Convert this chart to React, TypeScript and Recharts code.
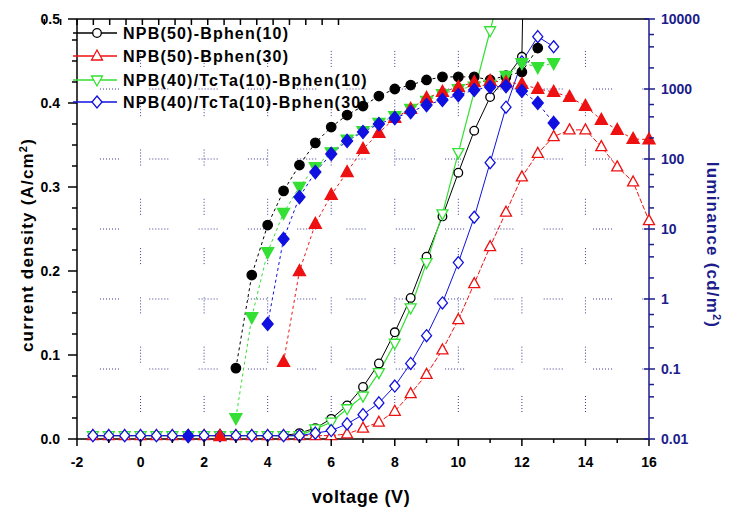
import { LineChart, Line, XAxis, YAxis, ReferenceLine } from "recharts";

// voltage (V) of each measured point
const voltage = [
  -1.5, -1, -0.5, 0, 0.5, 1, 1.5, 2, 2.5, 3, 3.5, 4, 4.5, 5, 5.5, 6, 6.5, 7,
  7.5, 8, 8.5, 9, 9.5, 10, 10.5, 11, 11.5, 12, 12.5, 13, 13.5, 14, 14.5, 15,
  15.5, 16,
];

// current density (A/cm2), open markers, left axis
const jBphen10 = [
  0.004, 0.004, 0.004, 0.004, 0.004, 0.004, 0.004, 0.004, 0.004, 0.004, 0.004,
  0.004, 0.004, 0.007, 0.013, 0.024, 0.04, 0.062, 0.09, 0.127, 0.168, 0.217,
  0.265, 0.317, 0.367, 0.407, 0.43, 0.455, 1.5, null, null, null, null, null,
  null, null,
];
const jBphen30 = [
  0.004, 0.004, 0.004, 0.004, 0.004, 0.004, 0.004, 0.004, 0.004, 0.004, 0.004,
  0.004, 0.004, 0.004, 0.004, 0.004, 0.006, 0.013, 0.02, 0.033, 0.054, 0.077,
  0.106, 0.142, 0.185, 0.229, 0.27, 0.312, 0.34, 0.36, 0.368, 0.368, 0.348,
  0.324, 0.306, 0.26,
];
const jTcta10 = [
  0.004, 0.004, 0.004, 0.004, 0.004, 0.004, 0.004, 0.004, 0.004, 0.004, 0.004,
  0.004, 0.004, 0.004, 0.012, 0.02, 0.036, 0.051, 0.079, 0.114, 0.156, 0.21,
  0.268, 0.341, null, 0.486, 0.56, null, null, null, null, null, null, null,
  null, null,
];
const jTcta30 = [
  0.004, 0.004, 0.004, 0.004, 0.004, 0.004, 0.004, 0.004, 0.004, 0.004, 0.004,
  0.004, 0.004, 0.004, 0.007, 0.01, 0.018, 0.029, 0.043, 0.063, 0.09, 0.123,
  0.162, 0.21, 0.264, 0.329, 0.395, 0.449, 0.479, 0.467, null, null, null,
  null, null, null,
];

// luminance (cd/m2), filled markers, right log axis
const lBphen10 = [
  null, null, null, null, null, null, null, null, null, 0.103, 2.2, 11.4, 35,
  82, 170, 286, 425, 571, 794, 1000, 1140, 1345, 1490, 1490, 1490, 1345, 1550,
  1750, 3850, null, null, null, null, null, null, null,
];
const lBphen30 = [
  null, null, null, null, null, null, null, null, 0.011, null, null, null,
  0.126, 2.5, 11.8, 30.6, 65, 139, 235, 385, 520, 743, 906, 1070, 1250, 1300,
  1250, 1180, 1000, 906, 769, 571, 361, 260, 193, 190,
];
const lTcta10 = [
  null, null, null, null, null, null, null, null, null, 0.02, 0.55, 4.7, 17,
  40, 77, 125, 190, 250, 330, 410, 520, 680, 850, 1000, 1080, 1150, 1550, 2350,
  2060, 2350, null, null, null, null, null, null,
];
const lTcta30 = [
  null, null, null, null, null, null, 0.011, null, null, null, null, 0.44, 7.2,
  28.6, 65, 118, 181, 243, 316, 385, 469, 590, 697, 820, 968, 1070, 1100, 937,
  631, 327, null, null, null, null, null, null,
];

const seriesNames = [
  "NPB(50)-Bphen(10)",
  "NPB(50)-Bphen(30)",
  "NPB(40)/TcTa(10)-Bphen(10)",
  "NPB(40)/TcTa(10)-Bphen(30)",
];

const xTicks = [-2, -1, 0, 1, 2, 3, 4, 5, 6, 7, 8, 9, 10, 11, 12, 13, 14, 15, 16];
const xGrid = [0, 2, 4, 6, 8, 10, 12, 14];
const jTicks = [
  0, 0.025, 0.05, 0.075, 0.1, 0.125, 0.15, 0.175, 0.2, 0.225, 0.25, 0.275, 0.3,
  0.325, 0.35, 0.375, 0.4, 0.425, 0.45, 0.475, 0.5,
];
const lumTicks = [
  0.01, 0.02, 0.04, 0.06, 0.1, 0.2, 0.4, 0.6, 1, 2, 4, 6, 10, 20, 40, 60, 100,
  200, 400, 600, 1000, 2000, 4000, 6000, 10000,
];
const lumLabels = [0.01, 0.1, 1, 10, 100, 1000, 10000];
const lumGrid = [0.1, 1, 10, 100, 1000];

const rows = voltage.map((v, i) => ({
  v,
  jA: jBphen10[i],
  jB: jBphen30[i],
  jC: jTcta10[i],
  jD: jTcta30[i],
  lA: lBphen10[i],
  lB: lBphen30[i],
  lC: lTcta10[i],
  lD: lTcta30[i],
}));

const FONT = "'Liberation Sans', Arial, sans-serif";
const NAVY = "#1c1c8a";
const BLACK = "#000000";
const RED = "#ee1111";
const GREEN = "#33e033";
const BLUE = "#1010e0";
const GRID = "#3a3a90";

type Shape = "circle" | "up" | "down" | "diamond";

function Marker({
  cx,
  cy,
  shape,
  color,
  filled,
}: {
  cx: number;
  cy: number;
  shape: Shape;
  color: string;
  filled: boolean;
}) {
  const p = { fill: filled ? color : "#fff", stroke: color, strokeWidth: 1.3 };
  const s = filled ? 1.1 : 1;
  if (shape === "circle") return <circle cx={cx} cy={cy} r={4.3 * s} {...p} />;
  if (shape === "up")
    return (
      <polygon
        points={`${cx},${cy - 6 * s} ${cx + 5.5 * s},${cy + 4 * s} ${cx - 5.5 * s},${cy + 4 * s}`}
        {...p}
      />
    );
  if (shape === "down")
    return (
      <polygon
        points={`${cx - 5.5 * s},${cy - 4 * s} ${cx + 5.5 * s},${cy - 4 * s} ${cx},${cy + 6 * s}`}
        {...p}
      />
    );
  return (
    <polygon
      points={`${cx},${cy - 6 * s} ${cx + 5 * s},${cy} ${cx},${cy + 6 * s} ${cx - 5 * s},${cy}`}
      {...p}
    />
  );
}

const dotFor = (shape: Shape, color: string, filled: boolean) => (p: any) => {
  if (typeof p.cy !== "number" || isNaN(p.cy) || p.value == null)
    return <g key={p.index} />;
  return (
    <Marker key={p.index} cx={p.cx} cy={p.cy} shape={shape} color={color} filled={filled} />
  );
};

const isMajorJ = (v: number) => Math.abs(v * 10 - Math.round(v * 10)) < 1e-6;

function LeftTick(props: any) {
  const { x, y, payload } = props;
  const major = isMajorJ(payload.value);
  return (
    <g>
      <line x1={x} x2={x - (major ? 9 : 5)} y1={y} y2={y} stroke={BLACK} strokeWidth={1.5} />
      {major && (
        <text x={x - 17} y={y} dy={5} textAnchor="end" fontFamily={FONT} fontWeight="bold" fontSize={14} fill={BLACK}>
          {payload.value.toFixed(1)}
        </text>
      )}
    </g>
  );
}

function RightTick(props: any) {
  const { x, y, payload } = props;
  const major = lumLabels.includes(payload.value);
  return (
    <g>
      <line x1={major ? x - 5 : x} x2={x + (major ? 6 : 5)} y1={y} y2={y} stroke={NAVY} strokeWidth={1.5} />
      {major && (
        <text x={x + 12} y={y} dy={5} textAnchor="start" fontFamily={FONT} fontWeight="bold" fontSize={14} fill={NAVY}>
          {String(payload.value)}
        </text>
      )}
    </g>
  );
}

function BottomTick(props: any) {
  const { x, y, payload } = props;
  const major = payload.value % 2 === 0;
  return (
    <g>
      <line x1={x} x2={x} y1={y} y2={y + (major ? 7 : 4)} stroke={BLACK} strokeWidth={1.5} />
      {major && (
        <text x={x} y={y + 28} textAnchor="middle" fontFamily={FONT} fontWeight="bold" fontSize={14} fill={BLACK}>
          {String(payload.value)}
        </text>
      )}
    </g>
  );
}

function TopTick(props: any) {
  const { x, y } = props;
  return <line x1={x} x2={x} y1={y} y2={y + 6} stroke={BLACK} strokeWidth={1.5} />;
}

const legendItems: { shape: Shape; color: string }[] = [
  { shape: "circle", color: BLACK },
  { shape: "up", color: RED },
  { shape: "down", color: GREEN },
  { shape: "diamond", color: BLUE },
];
const legendRowY = [33, 56, 80, 102];

export default function App() {
  return (
    <div style={{ position: "absolute", left: 0, top: 0, width: 738, height: 512, background: "#fff" }}>
      <LineChart
        width={738}
        height={512}
        data={rows}
        margin={{ top: 18, right: 9, bottom: 23, left: 17 }}
      >
        <XAxis
          dataKey="v"
          type="number"
          domain={[-2, 16]}
          ticks={xTicks}
          interval={0}
          height={50}
          tickSize={0}
          tickMargin={0}
          tickLine={false}
          tick={(p: any) => <BottomTick {...p} />}
          axisLine={{ stroke: BLACK, strokeWidth: 1.5 }}
        />
        <XAxis
          xAxisId="top"
          orientation="top"
          type="number"
          domain={[-2, 16]}
          ticks={xTicks}
          interval={0}
          height={1}
          tickSize={0}
          tickMargin={0}
          tickLine={false}
          tick={(p: any) => <TopTick {...p} />}
          axisLine={{ stroke: BLACK, strokeWidth: 1.5 }}
        />
        <YAxis
          yAxisId="j"
          orientation="left"
          type="number"
          domain={[0, 0.5]}
          ticks={jTicks}
          interval={0}
          width={60}
          tickSize={0}
          tickMargin={0}
          tickLine={false}
          tick={(p: any) => <LeftTick {...p} />}
          axisLine={{ stroke: BLACK, strokeWidth: 1.5 }}
        />
        <YAxis yAxisId="jc" hide type="number" domain={[0, 0.5]} allowDataOverflow />
        <YAxis
          yAxisId="lum"
          orientation="right"
          type="number"
          scale="log"
          domain={[0.01, 10000]}
          ticks={lumTicks}
          interval={0}
          width={80}
          tickSize={0}
          tickMargin={0}
          tickLine={false}
          tick={(p: any) => <RightTick {...p} />}
          axisLine={{ stroke: NAVY, strokeWidth: 1.5 }}
        />

        {xGrid.map((g) => (
          <ReferenceLine
            key={"vx" + g}
            yAxisId="j"
            segment={[{ x: g, y: 0 }, { x: g, y: 0.5 }]}
            stroke={GRID}
            strokeWidth={1}
            strokeDasharray="1 2 1 2 1 2 1 2 1 2 1 33.3"
            strokeDashoffset={22.3}
          />
        ))}
        {lumGrid.map((g) => (
          <ReferenceLine
            key={"hy" + g}
            yAxisId="lum"
            segment={[{ x: -2, y: g }, { x: 16, y: g }]}
            stroke={GRID}
            strokeWidth={1}
            strokeDasharray="1 2 1 2 1 2 1 2 1 2 1 2 1 30.3"
            strokeDashoffset={26.3}
          />
        ))}

        <Line yAxisId="jc" dataKey="jA" stroke={BLACK} strokeWidth={1} dot={dotFor("circle", BLACK, false)} activeDot={false} isAnimationActive={false} />
        <Line yAxisId="jc" dataKey="jC" connectNulls stroke={GREEN} strokeWidth={1.2} dot={dotFor("down", GREEN, false)} activeDot={false} isAnimationActive={false} />
        <Line yAxisId="j" dataKey="jB" stroke={RED} strokeWidth={1} strokeDasharray="5 2" dot={dotFor("up", RED, false)} activeDot={false} isAnimationActive={false} />
        <Line yAxisId="j" dataKey="jD" stroke={BLUE} strokeWidth={1} dot={dotFor("diamond", BLUE, false)} activeDot={false} isAnimationActive={false} />

        <Line yAxisId="lum" dataKey="lA" stroke={BLACK} strokeWidth={1} strokeDasharray="3 3" dot={dotFor("circle", BLACK, true)} activeDot={false} isAnimationActive={false} />
        <Line yAxisId="lum" dataKey="lC" stroke={GREEN} strokeWidth={1} strokeDasharray="3 3" dot={dotFor("down", GREEN, true)} activeDot={false} isAnimationActive={false} />
        <Line yAxisId="lum" dataKey="lB" stroke={RED} strokeWidth={1} strokeDasharray="3 3" dot={dotFor("up", RED, true)} activeDot={false} isAnimationActive={false} />
        <Line yAxisId="lum" dataKey="lD" stroke={BLUE} strokeWidth={1} strokeDasharray="3 3" dot={dotFor("diamond", BLUE, true)} activeDot={false} isAnimationActive={false} />
      </LineChart>

      <svg
        width={738}
        height={512}
        style={{ position: "absolute", left: 0, top: 0, pointerEvents: "none" }}
      >
        {seriesNames.map((name, i) => {
          const y = legendRowY[i];
          const it = legendItems[i];
          return (
            <g key={name}>
              <line x1={73} x2={117} y1={y} y2={y} stroke={it.color} strokeWidth={1.3} />
              <Marker cx={97} cy={y} shape={it.shape} color={it.color} filled={false} />
              <text x={123} y={y} dy={6} fontFamily={FONT} fontWeight="bold" fontSize={16} letterSpacing={1.2} fill={BLACK}>
                {name}
              </text>
            </g>
          );
        })}
        <text
          x={27}
          y={245}
          transform="rotate(-90 27 245)"
          textAnchor="middle"
          dy={6}
          fontFamily={FONT}
          fontWeight="bold"
          fontSize={17}
          letterSpacing={1.2}
          fill={BLACK}
        >
          current density (A/cm<tspan dy={-6} fontSize={11}>2</tspan>
          <tspan dy={6}>)</tspan>
        </text>
        <text
          x={713}
          y={245}
          transform="rotate(90 713 245)"
          textAnchor="middle"
          dy={6}
          fontFamily={FONT}
          fontWeight="bold"
          fontSize={17}
          letterSpacing={1.2}
          fill={NAVY}
        >
          luminance (cd/m<tspan dy={-6} fontSize={11}>2</tspan>
          <tspan dy={6}>)</tspan>
        </text>
        <text x={361} y={503} textAnchor="middle" fontFamily={FONT} fontWeight="bold" fontSize={18} letterSpacing={0.6} fill={BLACK}>
          voltage (V)
        </text>
      </svg>
    </div>
  );
}
